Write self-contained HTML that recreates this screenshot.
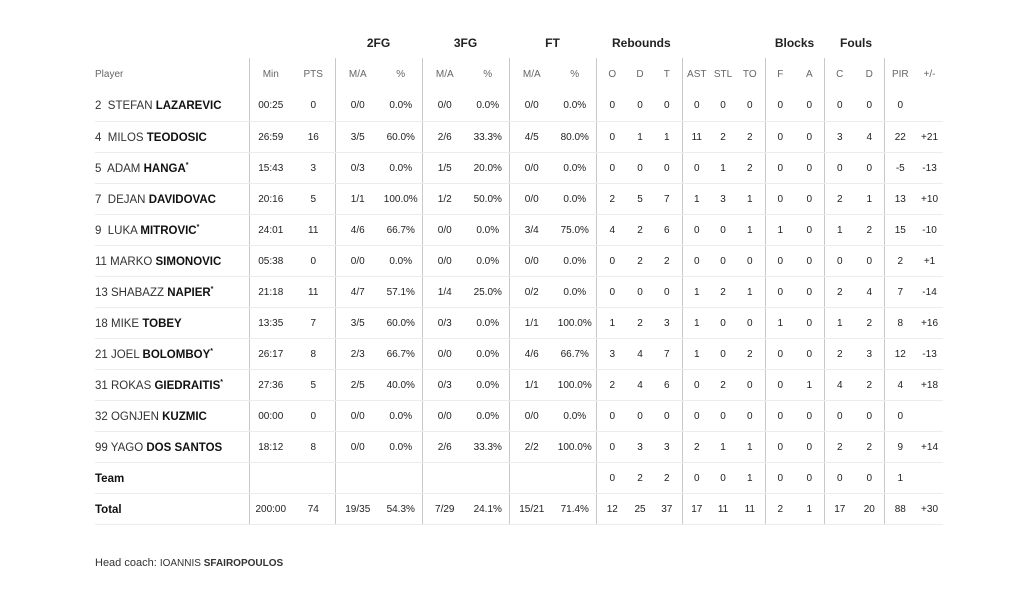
<!DOCTYPE html>
<html><head><meta charset="utf-8"><style>
html,body{margin:0;padding:0;background:#fff;width:1024px;height:598px;overflow:hidden}
body{font-family:"Liberation Sans",sans-serif;color:#222;position:relative}
table{position:absolute;left:95px;top:27px;border-collapse:collapse;table-layout:fixed;width:848px}
td,th{padding:0;text-align:center;font-size:10px;white-space:nowrap;box-sizing:border-box;line-height:12px}
tr.grp th{font-size:12px;font-weight:bold;color:#222;height:31px;vertical-align:middle}
tr.hd td{color:#666;height:32px;padding-top:2px}
tr.r td{border-bottom:1px solid #ececec;height:31px;padding-top:2px}
td.p{text-align:left;font-size:11.5px;color:#333}
td.p b{color:#111}
td.p sup{font-size:7px;vertical-align:baseline;position:relative;top:-5px;line-height:0}
td.l{border-left:1px solid #c8c8c8}
.coach{position:absolute;left:95px;top:557px;font-size:11px;color:#333}
.coach span{font-size:10px}
</style></head><body>
<table>
<colgroup>
<col style="width:154px"><col style="width:43px"><col style="width:43px">
<col style="width:45px"><col style="width:42px"><col style="width:45px"><col style="width:42px">
<col style="width:45px"><col style="width:42px">
<col style="width:32px"><col style="width:24px"><col style="width:30px">
<col style="width:29px"><col style="width:24px"><col style="width:30px">
<col style="width:30px"><col style="width:29px">
<col style="width:31px"><col style="width:29px">
<col style="width:32px"><col style="width:27px">
</colgroup>
<tr class="grp"><th></th><th></th><th></th><th colspan="2">2FG</th><th colspan="2">3FG</th><th colspan="2">FT</th><th colspan="3" style="text-align:left;padding-left:16px">Rebounds</th><th colspan="3"></th><th colspan="2">Blocks</th><th colspan="2" style="text-align:left;padding-left:16px">Fouls</th><th colspan="2"></th></tr>
<tr class="hd"><td class="p" style="font-size:10px;color:#666">Player</td><td class="l">Min</td><td>PTS</td><td class="l">M/A</td><td>%</td><td class="l">M/A</td><td>%</td><td class="l">M/A</td><td>%</td><td class="l">O</td><td>D</td><td>T</td><td class="l">AST</td><td>STL</td><td>TO</td><td class="l">F</td><td>A</td><td class="l">C</td><td>D</td><td class="l">PIR</td><td>+/-</td></tr>
<tr class="r"><td class="p">2&nbsp; STEFAN <b>LAZAREVIC</b></td><td class="l">00:25</td><td>0</td><td class="l">0/0</td><td>0.0%</td><td class="l">0/0</td><td>0.0%</td><td class="l">0/0</td><td>0.0%</td><td class="l">0</td><td>0</td><td>0</td><td class="l">0</td><td>0</td><td>0</td><td class="l">0</td><td>0</td><td class="l">0</td><td>0</td><td class="l">0</td><td></td></tr>
<tr class="r"><td class="p">4&nbsp; MILOS <b>TEODOSIC</b></td><td class="l">26:59</td><td>16</td><td class="l">3/5</td><td>60.0%</td><td class="l">2/6</td><td>33.3%</td><td class="l">4/5</td><td>80.0%</td><td class="l">0</td><td>1</td><td>1</td><td class="l">11</td><td>2</td><td>2</td><td class="l">0</td><td>0</td><td class="l">3</td><td>4</td><td class="l">22</td><td>+21</td></tr>
<tr class="r"><td class="p">5&nbsp; ADAM <b>HANGA<sup>*</sup></b></td><td class="l">15:43</td><td>3</td><td class="l">0/3</td><td>0.0%</td><td class="l">1/5</td><td>20.0%</td><td class="l">0/0</td><td>0.0%</td><td class="l">0</td><td>0</td><td>0</td><td class="l">0</td><td>1</td><td>2</td><td class="l">0</td><td>0</td><td class="l">0</td><td>0</td><td class="l">-5</td><td>-13</td></tr>
<tr class="r"><td class="p">7&nbsp; DEJAN <b>DAVIDOVAC</b></td><td class="l">20:16</td><td>5</td><td class="l">1/1</td><td>100.0%</td><td class="l">1/2</td><td>50.0%</td><td class="l">0/0</td><td>0.0%</td><td class="l">2</td><td>5</td><td>7</td><td class="l">1</td><td>3</td><td>1</td><td class="l">0</td><td>0</td><td class="l">2</td><td>1</td><td class="l">13</td><td>+10</td></tr>
<tr class="r"><td class="p">9&nbsp; LUKA <b>MITROVIC<sup>*</sup></b></td><td class="l">24:01</td><td>11</td><td class="l">4/6</td><td>66.7%</td><td class="l">0/0</td><td>0.0%</td><td class="l">3/4</td><td>75.0%</td><td class="l">4</td><td>2</td><td>6</td><td class="l">0</td><td>0</td><td>1</td><td class="l">1</td><td>0</td><td class="l">1</td><td>2</td><td class="l">15</td><td>-10</td></tr>
<tr class="r"><td class="p">11 MARKO <b>SIMONOVIC</b></td><td class="l">05:38</td><td>0</td><td class="l">0/0</td><td>0.0%</td><td class="l">0/0</td><td>0.0%</td><td class="l">0/0</td><td>0.0%</td><td class="l">0</td><td>2</td><td>2</td><td class="l">0</td><td>0</td><td>0</td><td class="l">0</td><td>0</td><td class="l">0</td><td>0</td><td class="l">2</td><td>+1</td></tr>
<tr class="r"><td class="p">13 SHABAZZ <b>NAPIER<sup>*</sup></b></td><td class="l">21:18</td><td>11</td><td class="l">4/7</td><td>57.1%</td><td class="l">1/4</td><td>25.0%</td><td class="l">0/2</td><td>0.0%</td><td class="l">0</td><td>0</td><td>0</td><td class="l">1</td><td>2</td><td>1</td><td class="l">0</td><td>0</td><td class="l">2</td><td>4</td><td class="l">7</td><td>-14</td></tr>
<tr class="r"><td class="p">18 MIKE <b>TOBEY</b></td><td class="l">13:35</td><td>7</td><td class="l">3/5</td><td>60.0%</td><td class="l">0/3</td><td>0.0%</td><td class="l">1/1</td><td>100.0%</td><td class="l">1</td><td>2</td><td>3</td><td class="l">1</td><td>0</td><td>0</td><td class="l">1</td><td>0</td><td class="l">1</td><td>2</td><td class="l">8</td><td>+16</td></tr>
<tr class="r"><td class="p">21 JOEL <b>BOLOMBOY<sup>*</sup></b></td><td class="l">26:17</td><td>8</td><td class="l">2/3</td><td>66.7%</td><td class="l">0/0</td><td>0.0%</td><td class="l">4/6</td><td>66.7%</td><td class="l">3</td><td>4</td><td>7</td><td class="l">1</td><td>0</td><td>2</td><td class="l">0</td><td>0</td><td class="l">2</td><td>3</td><td class="l">12</td><td>-13</td></tr>
<tr class="r"><td class="p">31 ROKAS <b>GIEDRAITIS<sup>*</sup></b></td><td class="l">27:36</td><td>5</td><td class="l">2/5</td><td>40.0%</td><td class="l">0/3</td><td>0.0%</td><td class="l">1/1</td><td>100.0%</td><td class="l">2</td><td>4</td><td>6</td><td class="l">0</td><td>2</td><td>0</td><td class="l">0</td><td>1</td><td class="l">4</td><td>2</td><td class="l">4</td><td>+18</td></tr>
<tr class="r"><td class="p">32 OGNJEN <b>KUZMIC</b></td><td class="l">00:00</td><td>0</td><td class="l">0/0</td><td>0.0%</td><td class="l">0/0</td><td>0.0%</td><td class="l">0/0</td><td>0.0%</td><td class="l">0</td><td>0</td><td>0</td><td class="l">0</td><td>0</td><td>0</td><td class="l">0</td><td>0</td><td class="l">0</td><td>0</td><td class="l">0</td><td></td></tr>
<tr class="r"><td class="p">99 YAGO <b>DOS SANTOS</b></td><td class="l">18:12</td><td>8</td><td class="l">0/0</td><td>0.0%</td><td class="l">2/6</td><td>33.3%</td><td class="l">2/2</td><td>100.0%</td><td class="l">0</td><td>3</td><td>3</td><td class="l">2</td><td>1</td><td>1</td><td class="l">0</td><td>0</td><td class="l">2</td><td>2</td><td class="l">9</td><td>+14</td></tr>
<tr class="r"><td class="p"><b>Team</b></td><td class="l"></td><td></td><td class="l"></td><td></td><td class="l"></td><td></td><td class="l"></td><td></td><td class="l">0</td><td>2</td><td>2</td><td class="l">0</td><td>0</td><td>1</td><td class="l">0</td><td>0</td><td class="l">0</td><td>0</td><td class="l">1</td><td></td></tr>
<tr class="r"><td class="p"><b>Total</b></td><td class="l">200:00</td><td>74</td><td class="l">19/35</td><td>54.3%</td><td class="l">7/29</td><td>24.1%</td><td class="l">15/21</td><td>71.4%</td><td class="l">12</td><td>25</td><td>37</td><td class="l">17</td><td>11</td><td>11</td><td class="l">2</td><td>1</td><td class="l">17</td><td>20</td><td class="l">88</td><td>+30</td></tr>
</table>
<div class="coach">Head coach: <span>IOANNIS <b>SFAIROPOULOS</b></span></div>
</body></html>
